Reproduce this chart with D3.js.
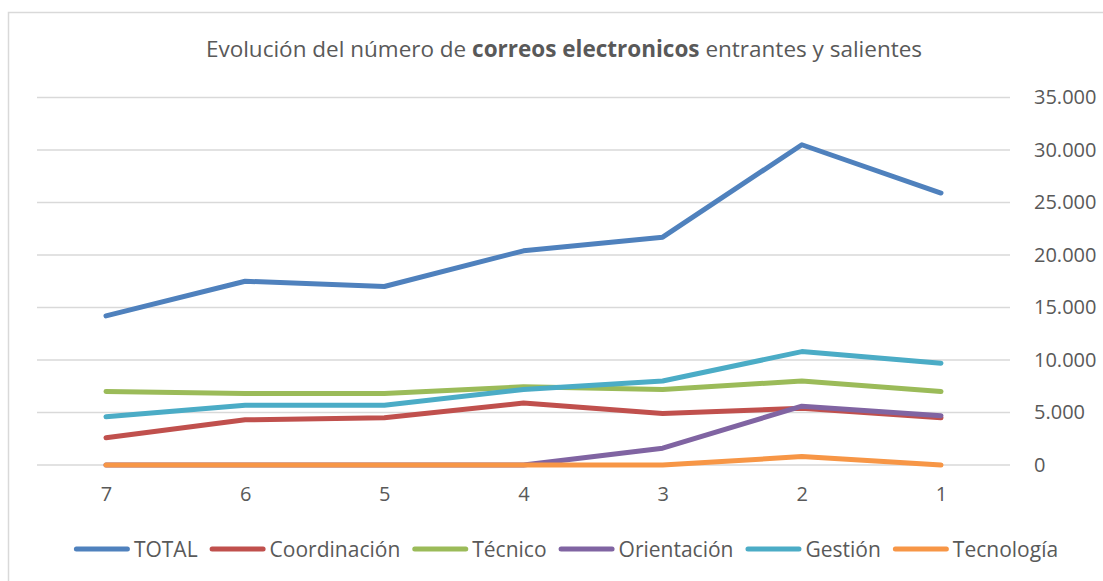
<!DOCTYPE html>
<html>
<head>
<meta charset="utf-8">
<script src="https://cdn.jsdelivr.net/npm/d3@7"></script>
<style>
  body { margin: 0; background: #fff; }
  text { font-family: "Open Sans", sans-serif; fill: #595959; }
</style>
</head>
<body>
<div class="wrapper"></div>
<script>
const categories = ["7", "6", "5", "4", "3", "2", "1"];
const seriesNames = ["TOTAL", "Coordinación", "Técnico", "Orientación", "Gestión", "Tecnología"];
const total        = [14200, 17500, 17000, 20400, 21700, 30500, 25900];
const coordinacion = [2600, 4300, 4500, 5900, 4900, 5400, 4500];
const tecnico      = [7000, 6800, 6800, 7450, 7200, 8000, 7000];
const orientacion  = [0, 0, 0, 0, 1600, 5600, 4700];
const gestion      = [4600, 5700, 5700, 7200, 8000, 10800, 9700];
const tecnologia   = [0, 0, 0, 0, 0, 800, 0];
const yTicks = [0, 5000, 10000, 15000, 20000, 25000, 30000, 35000];

const colors = ["#4F81BD", "#C0504D", "#9BBB59", "#8064A2", "#4BACC6", "#F79646"];
const series = [total, coordinacion, tecnico, orientacion, gestion, tecnologia];

var width = 1103, height = 581;

var svg = d3.select(".wrapper").append("svg")
    .attr("width", width)
    .attr("height", height);

// chart border (runs off the right and bottom edges)
svg.append("rect")
    .attr("x", 8.5).attr("y", 12.5)
    .attr("width", 1110).attr("height", 600)
    .attr("fill", "none")
    .attr("stroke", "#D9D9D9")
    .attr("stroke-width", 1.5);

var x = d3.scalePoint().domain(categories).range([106, 941]);
var y = d3.scaleLinear().domain([0, 35000]).range([465, 97.5]);

var locale = d3.formatLocale({ decimal: ",", thousands: ".", grouping: [3], currency: ["", " €"] });
var fmt = locale.format(",");

// gridlines
svg.append("g").selectAll("line")
    .data(yTicks)
  .enter().append("line")
    .attr("x1", 37).attr("x2", 1010)
    .attr("y1", d => y(d)).attr("y2", d => y(d))
    .attr("stroke", "#D9D9D9")
    .attr("stroke-width", 1.3);

// right axis labels
var yAxis = d3.axisRight(y).tickValues(yTicks).tickFormat(fmt).tickSize(0).tickPadding(0);
var ya = svg.append("g").attr("transform", "translate(1034,0)").call(yAxis);
ya.select(".domain").remove();
ya.selectAll("text").attr("font-size", 20).attr("font-family", null).attr("fill", "#595959");

// bottom axis labels
var xAxis = d3.axisBottom(x).tickSize(0).tickPadding(0);
var xa = svg.append("g").attr("transform", "translate(0,487)").call(xAxis);
xa.select(".domain").remove();
xa.selectAll("text").attr("font-size", 20).attr("font-family", null).attr("fill", "#595959");

// lines
var line = d3.line()
    .x((d, i) => x(categories[i]))
    .y(d => y(d));

svg.append("g").selectAll("path")
    .data(series)
  .enter().append("path")
    .attr("d", line)
    .attr("fill", "none")
    .attr("stroke", (d, i) => colors[i])
    .attr("stroke-width", 5)
    .attr("stroke-linejoin", "round")
    .attr("stroke-linecap", "round");

// title
var title = svg.append("text")
    .attr("x", 564).attr("y", 57)
    .attr("text-anchor", "middle")
    .attr("font-size", 22.5);
title.append("tspan").text("Evolución del número de ");
title.append("tspan").attr("font-weight", "bold").text("correos electronicos");
title.append("tspan").text(" entrantes y salientes");

// legend
var legend = svg.append("g");
var sampleW = 56, gapText = 4, gapItem = 12;
var items = legend.selectAll("g")
    .data(seriesNames)
  .enter().append("g");
items.append("line")
    .attr("x1", 2.5).attr("x2", sampleW - 2.5)
    .attr("y1", 0).attr("y2", 0)
    .attr("stroke", (d, i) => colors[i])
    .attr("stroke-width", 5)
    .attr("stroke-linecap", "round");
items.append("text")
    .attr("x", sampleW + gapText)
    .attr("y", 7.5)
    .attr("font-size", 21)
    .text(d => d);

var offsets = [], cur = 0;
items.each(function() {
  offsets.push(cur);
  var w = d3.select(this).select("text").node().getComputedTextLength();
  cur += sampleW + gapText + w + gapItem;
});
var totalW = cur - gapItem;
items.attr("transform", (d, i) => "translate(" + offsets[i] + ",0)");
legend.attr("transform", "translate(" + (566 - totalW / 2) + ",549)");
</script>
</body>
</html>
